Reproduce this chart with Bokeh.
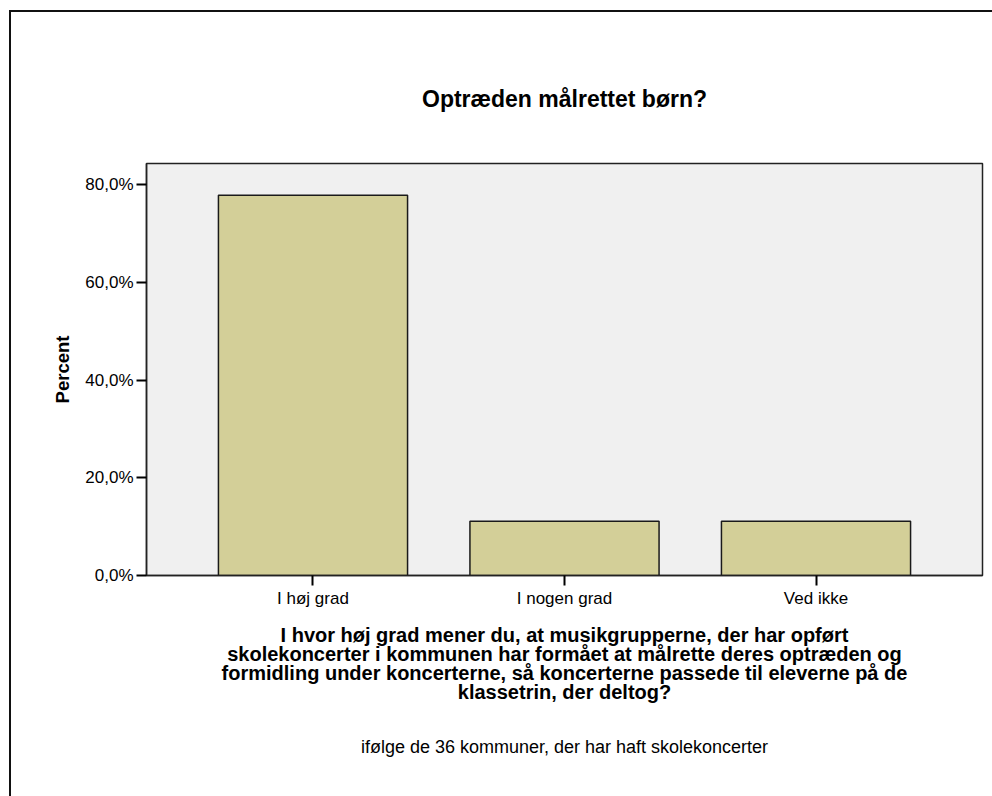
from bokeh.plotting import figure
from bokeh.models import Range1d, FixedTicker, LinearAxis, InlineStyleSheet
from bokeh.embed import file_html
from bokeh.resources import INLINE

categories = ["I høj grad", "I nogen grad", "Ved ikke"]
percent = [77.8, 11.1, 11.1]
y_ticks = [0, 20, 40, 60, 80]
y_tick_labels = ["0,0%", "20,0%", "40,0%", "60,0%", "80,0%"]
title_text = "Optræden målrettet børn?"
x_label_lines = [
    "I hvor høj grad mener du, at musikgrupperne, der har opført",
    "skolekoncerter i kommunen har formået at målrette deres optræden og",
    "formidling under koncerterne, så koncerterne passede til eleverne på de",
    "klassetrin, der deltog?",
]
footnote = "ifølge de 36 kommuner, der har haft skolekoncerter"

FONT = "Liberation Sans"
W, H = 992, 796
FL, FT, FR, FB = 146, 163, 982, 575  # frame edges in px
X0, X1 = 0.338, 3.662
Y0, Y1 = 0.0, 84.3

p = figure(width=W, height=H, output_backend="svg", toolbar_location=None,
           x_range=Range1d(X0, X1), y_range=Range1d(Y0, Y1),
           min_border_left=FL, min_border_right=W - FR,
           min_border_top=FT, min_border_bottom=H - FB)
p.background_fill_color = "#F0F0F0"
p.border_fill_color = "white"
p.outline_line_color = "#222222"
p.outline_line_width = 1.5
p.grid.visible = False

xs = list(range(1, len(categories) + 1))
p.vbar(x=xs, top=percent, width=0.752, bottom=0,
       fill_color="#D3CF98", line_color="#1a1a1a", line_width=1.5)

# axes
p.xaxis.ticker = FixedTicker(ticks=xs)
p.xaxis.major_label_overrides = {x: c for x, c in zip(xs, categories)}
p.yaxis.ticker = FixedTicker(ticks=y_ticks)
p.yaxis.major_label_overrides = {t: l for t, l in zip(y_ticks, y_tick_labels)}
for ax in (p.xaxis, p.yaxis):
    ax.major_tick_out = 10
    ax.major_tick_in = 0
    ax.minor_tick_out = 0
    ax.minor_tick_in = 0
    ax.major_tick_line_width = 2
    ax.major_tick_line_color = "black"
    ax.axis_line_color = "#222222"
    ax.axis_line_width = 1.5
    ax.major_label_text_font = FONT
    ax.major_label_text_font_size = "17px"
    ax.major_label_text_color = "black"
p.xaxis.major_label_standoff = 3
p.yaxis.major_label_standoff = 3
p.yaxis.axis_label = "Percent"
p.yaxis.axis_label_text_font = FONT
p.yaxis.axis_label_text_font_style = "bold"
p.yaxis.axis_label_text_font_size = "18.5px"
p.yaxis.axis_label_text_color = "black"
p.yaxis.axis_label_standoff = 9


def dx(px):
    return X0 + (px - FL) / (FR - FL) * (X1 - X0)


def text_axis(txt, center_px, half_w, size, standoff, bold, place):
    ax = LinearAxis(ticker=FixedTicker(ticks=[]), axis_line_color=None,
                    major_tick_line_color=None, minor_tick_line_color=None,
                    major_label_text_font_size="0px",
                    bounds=(dx(center_px - half_w), dx(center_px + half_w)),
                    axis_label=txt, axis_label_text_font=FONT,
                    axis_label_text_font_size=size,
                    axis_label_text_font_style="bold" if bold else "normal",
                    axis_label_text_color="black",
                    axis_label_standoff=standoff)
    p.add_layout(ax, place)


text_axis(title_text, 506, 300, "23px", 52, True, "above")
standoffs = [13, -6, -6, -6]
for line, so in zip(x_label_lines, standoffs):
    text_axis(line, 507, 300, "20px", so, True, "below")
text_axis(footnote, 494.5, 300, "18px", 31, False, "below")

# outer frame (left and top edges of the surrounding box)
p.stylesheets = [InlineStyleSheet(css=(
    ":host { position: relative; }"
    ":host::after { content: ''; position: absolute; left: 9px; top: 10px;"
    " right: 0; bottom: 0; border-left: 2px solid #111; border-top: 2px solid #111;"
    " pointer-events: none; }"))]

open("out.html", "w").write(file_html(p, INLINE))
